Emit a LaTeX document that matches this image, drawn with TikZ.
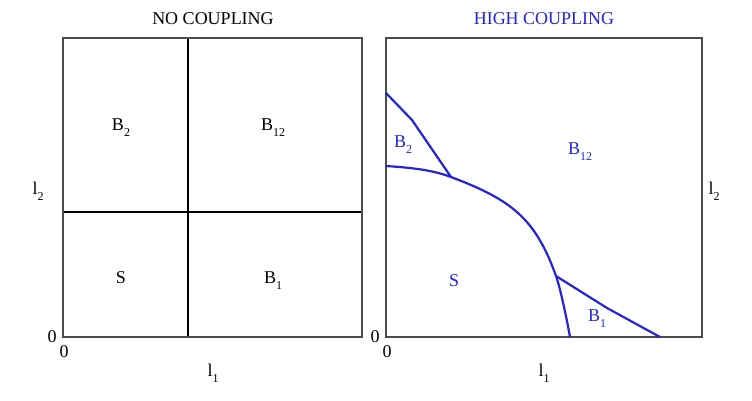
\documentclass[tikz,border=0pt]{standalone}
\usepackage{fontspec}
\setmainfont{Liberation Serif}
\usetikzlibrary{calc}
\definecolor{hcblue}{RGB}{35,35,215}
\newcommand
    {\lowsub}[1]
    {%
        \raisebox{-0.75ex}{\fontsize{12}{13}\selectfont #1}%
    }

\begin{document}
\begin{tikzpicture}[x=1pt,y=-1pt,
        frame/.style={draw=black!70,line width=1.2pt},
        split/.style={draw=black,line width=2pt},
        bound/.style={draw=hcblue,line width=2.2pt,line join=round},
        lbl/.style={font=\fontsize{18}{20}\selectfont,inner sep=0pt}]
        \useasboundingbox (0,0) rectangle (752,400);

        % 1. No coupling panel
        \node (t1) at (213,19) [lbl] {NO COUPLING};
        \coordinate (a0) at (63,337);
        \coordinate (a1) at (362,38);
        \draw[split] (188,38) -- (188,337);
        \draw[split] (63,212) -- (362,212);
        \draw[frame] (a0) rectangle (a1);

        \node (s1) at (121,278) [lbl] {S};
        \node (b1) at (273,281) [lbl] {B\lowsub{1}};
        \node (b2) at (121,128) [lbl] {B\lowsub{2}};
        \node (b12) at (273,128) [lbl] {B\lowsub{12}};

        % axis labels
        \node (y0l) at (52,337) [lbl] {0};
        \node (x0l) at (64,352) [lbl] {0};
        \node (l1l) at (213,373) [lbl] {l\lowsub{1}};
        \node (l2l) at (38,191) [lbl] {l\lowsub{2}};

        % 2. High coupling panel
        \node (t2) at (544,19) [lbl,text=hcblue] {HIGH COUPLING};
        \coordinate (c0) at (386,337);
        \coordinate (c1) at (702,38);
        \draw[frame] (c0) rectangle (c1);

        % junctions of the boundaries
        \coordinate (j2) at (451,177);
        \coordinate (j1) at (556,276);

        % S boundary
        \draw[bound] (386,166) .. controls (408,167.5) and (431,169.4) .. (j2)
            .. controls (510.6,199.6) and (535,217.3) .. (j1)
            .. controls (560,287) and (566,315) .. (570,337);
        % B2 and B1 boundaries
        \draw[bound] (386,93) -- (412,120) -- (j2);
        \draw[bound] (j1) -- (607,308) -- (660,337);

        \node (s2) at (454,281) [lbl,text=hcblue] {S};
        \node (c1l) at (597,319) [lbl,text=hcblue] {B\lowsub{1}};
        \node (c2l) at (403,145) [lbl,text=hcblue] {B\lowsub{2}};
        \node (c12l) at (580,152) [lbl,text=hcblue] {B\lowsub{12}};

        % axis labels
        \node (y0r) at (375,337) [lbl] {0};
        \node (x0r) at (387,352) [lbl] {0};
        \node (l1r) at (544,373) [lbl] {l\lowsub{1}};
        \node (l2r) at (714,191) [lbl] {l\lowsub{2}};
    \end{tikzpicture}
\end{document}
